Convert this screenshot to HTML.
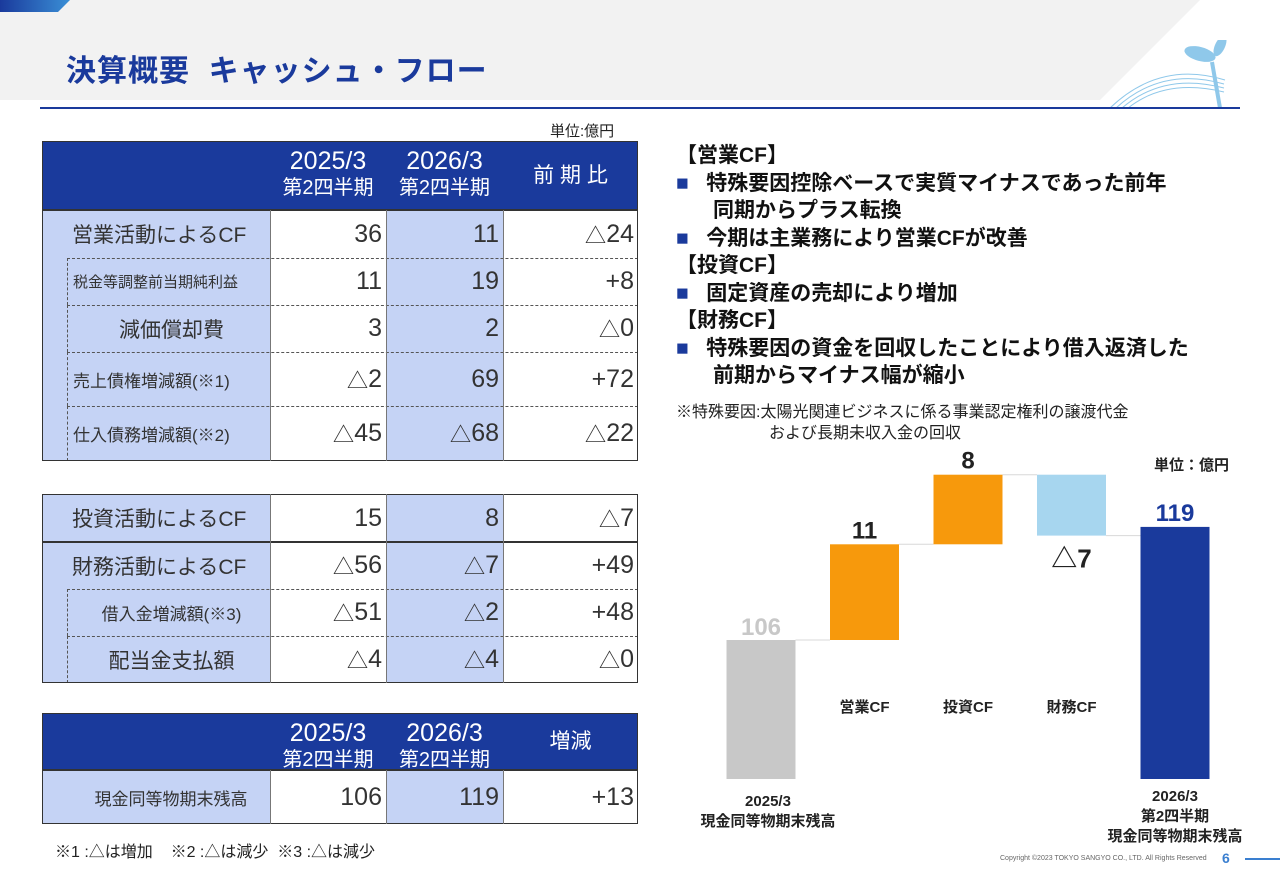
<!DOCTYPE html>
<html><head><meta charset="utf-8">
<style>
*{margin:0;padding:0;box-sizing:border-box}
body{width:1280px;height:886px;position:relative;background:#fff;font-family:"Liberation Sans","Noto Sans CJK JP",sans-serif;overflow:hidden;color:#222}
.a{position:absolute}
.cell{position:absolute;display:flex;align-items:center;font-size:23px;color:#333;white-space:nowrap}
.num{justify-content:flex-end;padding-right:4px;font-size:25px}
.lab{padding-left:6px}
.hd{position:absolute;color:#fff;text-align:center;line-height:25px;font-size:20px}
.b{font-weight:bold}
.tri{font-size:0.85em}
</style></head><body>
<div class="a" style="left:0;top:0;width:1280px;height:100px;background:#f2f2f2;clip-path:polygon(0 0,1200px 0,1100px 100px,0 100px)"></div>
<div class="a" style="left:0;top:0;width:70px;height:12px;background:linear-gradient(90deg,#1a3a9c,#3a8fd6);clip-path:polygon(0 0,70px 0,58px 12px,0 12px)"></div>
<div class="a b" style="left:66px;top:46px;font-size:30px;color:#1a3a9c;letter-spacing:1px">決算概要&nbsp;&nbsp;キャッシュ・フロー</div>
<svg class="a" style="left:1100px;top:40px" width="140" height="70" viewBox="0 0 140 70">
<g fill="none" stroke="#8fc8ea" stroke-width="1"><path d="M10 68 Q60 20 125 40"/><path d="M16 68 Q62 26 124 44"/><path d="M22 68 Q64 32 124 48"/><path d="M28 68 Q66 38 124 52"/></g>
<path d="M120 68 L112 22" stroke="#8fc8ea" stroke-width="4"/>
<ellipse cx="100" cy="14" rx="16" ry="7" fill="#8fc8ea" transform="rotate(15 100 14)"/>
<ellipse cx="120" cy="6" rx="5" ry="11" fill="#8fc8ea" transform="rotate(25 120 6)"/>
</svg>
<div class="a" style="left:40px;top:107px;width:1200px;height:2px;background:#1a3a9c"></div>
<div class="a" style="left:550px;top:120px;font-size:15px">単位:億円</div>

<div id="tables"></div>

<div class="a" style="left:55px;top:838px;font-size:16px">※1 :△は増加&nbsp;&nbsp;&nbsp;&nbsp;※2 :△は減少&nbsp;&nbsp;※3 :△は減少</div>

<div class="a" style="left:676px;top:142px;font-size:21px;line-height:27.5px;color:#111;font-weight:bold">
<div>【営業CF】</div>
<div><span style="color:#1a3a9c">■</span>&nbsp;&nbsp;&nbsp;特殊要因控除ベースで実質マイナスであった前年</div>
<div style="padding-left:37px">同期からプラス転換</div>
<div><span style="color:#1a3a9c">■</span>&nbsp;&nbsp;&nbsp;今期は主業務により営業CFが改善</div>
<div>【投資CF】</div>
<div><span style="color:#1a3a9c">■</span>&nbsp;&nbsp;&nbsp;固定資産の売却により増加</div>
<div>【財務CF】</div>
<div><span style="color:#1a3a9c">■</span>&nbsp;&nbsp;&nbsp;特殊要因の資金を回収したことにより借入返済した</div>
<div style="padding-left:37px">前期からマイナス幅が縮小</div>
</div>
<div class="a" style="left:676px;top:402px;font-size:16px;line-height:21px">※特殊要因:太陽光関連ビジネスに係る事業認定権利の譲渡代金<br><span style="padding-left:93px">および長期未収入金の回収</span></div>
<div class="a b" style="left:1154px;top:454px;font-size:15px">単位：億円</div>

<svg class="a" id="chart" style="left:0;top:0" width="1280" height="886"></svg>

<div class="a" style="left:1000px;top:855px;font-size:7px;color:#666">Copyright ©2023 TOKYO SANGYO CO., LTD. All Rights Reserved</div>
<div class="a b" style="left:1222px;top:850px;font-size:14px;color:#3a7fd0">6</div>
<div class="a" style="left:1245px;top:858px;width:35px;height:2px;background:#3a7fd0"></div>

<script>
const NS='http://www.w3.org/2000/svg';
// ---- chart data ----
const categories=['2025/3 現金同等物期末残高','営業CF','投資CF','財務CF','2026/3 第2四半期 現金同等物期末残高'];
const startValue=[106];
const deltas=[11,8,-7];
const endValue=[119];
const valueLabels=['106','11','8','△7','119'];
const axisMin=90, pxPerUnit=8.7, baseY=779, zeroRef=106, refY=640;
function y(v){return refY-(v-zeroRef)*pxPerUnit;}
function xc(i){return 761+i*103.5;}
const svg=document.getElementById('chart');
function rect(x,y1,w,h,fill,name){const r=document.createElementNS(NS,'rect');r.setAttribute('x',x);r.setAttribute('y',y1);r.setAttribute('width',w);r.setAttribute('height',h);r.setAttribute('fill',fill);


svg.appendChild(r);}
function txt(x,y1,s,size,fill,name,weight){const t=document.createElementNS(NS,'text');t.setAttribute('x',x);t.setAttribute('y',y1);t.setAttribute('text-anchor','middle');t.setAttribute('font-size',size);t.setAttribute('fill',fill);t.setAttribute('font-weight',weight||'bold');t.textContent=s;


svg.appendChild(t);}
const bw=69;
let level=startValue[0];
rect(xc(0)-bw/2,y(level),bw,baseY-y(level),'#c8c8c8','bar-start');
txt(xc(0),y(level)-5,valueLabels[0],24,'#c8c8c8','value-start');
const cols=['#f7990c','#f7990c','#a7d6ef'];
for(let i=0;i<deltas.length;i++){
  const a=level,b=level+deltas[i];
  const top=y(Math.max(a,b)),h=Math.abs(y(a)-y(b));
  const ln=document.createElementNS(NS,'line');ln.setAttribute('x1',xc(i)+bw/2);ln.setAttribute('x2',xc(i+1)-bw/2);ln.setAttribute('y1',y(a));ln.setAttribute('y2',y(a));ln.setAttribute('stroke','#d8d8d8');
  
  
  svg.appendChild(ln);
  rect(xc(i+1)-bw/2,top,bw,h,cols[i],'bar-delta');
  if(deltas[i]>=0) txt(xc(i+1),top-6,valueLabels[i+1],24,'#222','value-delta');
  else txt(xc(i+1),top+h+32,valueLabels[i+1],26,'#222','value-delta');
  level=b;
}
const ln2=document.createElementNS(NS,'line');ln2.setAttribute('x1',xc(3)+bw/2);ln2.setAttribute('x2',xc(4)-bw/2);ln2.setAttribute('y1',y(level));ln2.setAttribute('y2',y(level));ln2.setAttribute('stroke','#d8d8d8');


svg.appendChild(ln2);
rect(xc(4)-bw/2,y(endValue[0]),bw,baseY-y(endValue[0]),'#1a3a9c','bar-end');
txt(xc(4),y(endValue[0])-6,valueLabels[4],24,'#1a3a9c','value-end');
txt(xc(1),712,'営業CF',15,'#222','category-label');
txt(xc(2),712,'投資CF',15,'#222','category-label');
txt(xc(3),712,'財務CF',15,'#222','category-label');
txt(xc(0)+7,806,'2025/3',15,'#222','category-label');
txt(xc(0)+7,826,'現金同等物期末残高',15,'#222','category-label');
txt(xc(4),801,'2026/3',15,'#222','category-label');
txt(xc(4),821,'第2四半期',15,'#222','category-label');
txt(xc(4),841,'現金同等物期末残高',15,'#222','category-label');

// ---- tables ----
const T=document.getElementById('tables');
const C=[42,270,386,503,638];
function div(st,cls,html,name){const d=document.createElement('div');d.className=cls;d.style.cssText=st;d.innerHTML=html;


T.appendChild(d);return d;}
function fmt(s){return s.replace('△','<span class="tri">△</span>');}
function header(top,h,last){
  div(`left:${C[0]}px;top:${top}px;width:${C[4]-C[0]}px;height:${h}px;background:#1a3a9c;border:1.5px solid #333`,'a','','table-header');
  div(`left:${C[1]}px;top:${top+8}px;width:116px`,'hd','<span style="font-size:25px">2025/3</span><br>第2四半期','header-2025');
  div(`left:${C[2]}px;top:${top+8}px;width:117px`,'hd','<span style="font-size:25px">2026/3</span><br>第2四半期','header-2026');
  div(`left:${C[3]}px;top:${top+h/2-13}px;width:135px;font-size:21px`,'hd',last,'header-change');
}
function block(top,rows){
  let t=top;const total=rows.reduce((s,r)=>s+r[4],0);
  div(`left:${C[0]}px;top:${top}px;width:${C[1]-C[0]}px;height:${total}px;background:#c5d3f5`,'a','','label-column');
  div(`left:${C[2]}px;top:${top}px;width:${C[3]-C[2]}px;height:${total}px;background:#c5d3f5`,'a','','col-2026-bg');
  rows.forEach((r,i)=>{
    const [lab,v1,v2,v3,h,sub,fs,center]=r;
    if(i>0) div(`left:${sub?67:C[0]}px;top:${t}px;width:${C[4]-(sub?67:C[0])}px;height:0;border-top:${sub?'1px dashed #555':'1.5px solid #333'}`,'a','','row-divider');
    if(sub) div(`left:67px;top:${t}px;height:${h}px;width:0;border-left:1px dashed #555`,'a','','sub-indent');
    div(`left:${sub?67:C[0]+24}px;top:${t}px;width:${sub?203:204}px;height:${h}px;font-size:${fs}px;${center?'justify-content:center;':''}`,'cell lab',lab,'row-label');
    div(`left:${C[1]}px;top:${t}px;width:116px;height:${h}px`,'cell num',fmt(v1),'value-2025');
    div(`left:${C[2]}px;top:${t}px;width:117px;height:${h}px`,'cell num',fmt(v2),'value-2026');
    div(`left:${C[3]}px;top:${t}px;width:135px;height:${h}px`,'cell num',fmt(v3),'value-change');
    t+=h;
  });
  div(`left:${C[0]}px;top:${top}px;width:${C[4]-C[0]}px;height:${total}px;border:1.5px solid #333`,'a','','table-border');
  [1,2,3].forEach(k=>div(`left:${C[k]}px;top:${top}px;width:0;height:${total}px;border-left:1px solid #777`,'a','','col-divider'));
}
header(141,69,'前 期 比');
block(210,[['営業活動によるCF','36','11','△24',48,false,21],['税金等調整前当期純利益','11','19','+8',47,true,15],['減価償却費','3','2','△0',47,true,21,true],['売上債権増減額(※1)','△2','69','+72',54,true,17],['仕入債務増減額(※2)','△45','△68','△22',55,true,17]]);
block(494,[['投資活動によるCF','15','8','△7',48,false,21]]);
block(542,[['財務活動によるCF','△56','△7','+49',47,false,21],['借入金増減額(※3)','△51','△2','+48',47,true,17,true],['配当金支払額','△4','△4','△0',47,true,21,true]]);
header(713,57,'増減');
block(770,[['現金同等物期末残高','106','119','+13',54,false,17,true]]);
</script>
</body></html>
